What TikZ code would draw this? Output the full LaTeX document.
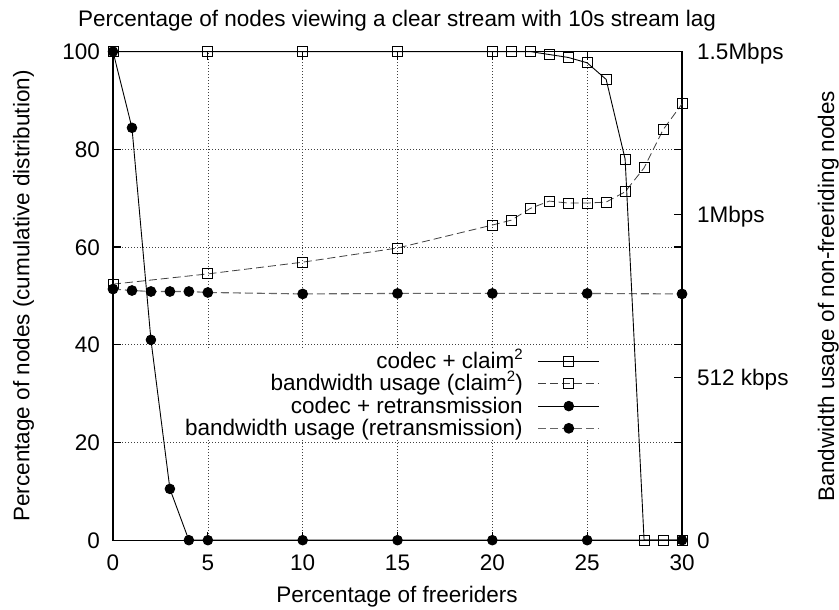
\documentclass[tikz,border=0pt]{standalone}
\usepackage{fontspec}
\setmainfont{Liberation Sans}
\usetikzlibrary{plotmarks}
\newcommand\mysqr{\raisebox{9bp}{\fontsize{15bp}{15bp}\selectfont 2}}
\begin{document}
\begin{tikzpicture}[x=1bp,y=1bp,
  font=\fontsize{22.5bp}{26bp}\selectfont,
  frame/.style={line width=1.2bp, black},
  gridl/.style={line width=0.6bp, black!75, dash pattern=on 0.8bp off 2.2bp},
  solidl/.style={line width=0.9bp, black},
  dashl/.style={line width=0.8bp, black!75, dash pattern=on 8bp off 4bp},
  dashg/.style={line width=1.1bp, black!60, dash pattern=on 8bp off 4bp},
  sqm/.style={mark=square, mark size=5bp, mark options={solid, black, line width=0.9bp}},
  dotm/.style={mark=*, mark size=4.8bp, mark options={solid, black}},
  lab/.style={inner sep=0pt}]
\useasboundingbox (0,0) rectangle (839,610);
\fill[white] (0,0) rectangle (839,610);
\begin{scope}[shift={(113,69.8)}, x=18.967bp, y=4.886bp]
  % grid
  \foreach \gx in {5,10,15,20,25} \draw[gridl] (\gx,0) -- (\gx,100);
  \foreach \gy in {20,40,60,80} \draw[gridl] (0,\gy) -- (30,\gy);
  % key area blanks the grid
  \fill[white] (2.48,20.5) rectangle (25.95,39.1);
  % ticks
  \foreach \t in {0,5,...,30} {
    \draw[frame] (\t,0) -- ++(0,8bp);
    \draw[frame] (\t,100) -- ++(0,-8bp);
    \node[lab, anchor=base] (xl\t) at ([yshift=-30.8bp]\t,0) {\t};
  }
  \foreach \v in {0,20,...,100} {
    \draw[frame] (0,\v) -- ++(8bp,0);
    \draw[frame] (30,\v) -- ++(-8bp,0);
    \node[lab, anchor=base east] (yl\v) at ([xshift=-13bp,yshift=-8bp]0,\v) {\v};
  }
  \foreach \v in {33.333,66.667} \draw[frame] (30,\v) -- ++(-8bp,0);
  \node[lab, anchor=base west] (r0) at ([xshift=15bp,yshift=-8bp]30,0) {0};
  \node[lab, anchor=base west] (r1) at ([xshift=15bp,yshift=-8bp]30,33.333) {512 kbps};
  \node[lab, anchor=base west] (r2) at ([xshift=15bp,yshift=-8bp]30,66.667) {1Mbps};
  \node[lab, anchor=base west] (r3) at ([xshift=15bp,yshift=-8bp]30,100) {1.5Mbps};
  % frame
  \draw[frame] (0,0) rectangle (30,100);
  % data: bandwidth usage (claim^2)
  \draw[dashl, sqm] plot coordinates {(0,52.4) (5,54.5) (10,56.9) (15,59.8) (20,64.5) (21,65.5) (22,67.9) (23,69.4) (24,69.0) (25,69.0) (26,69.2) (27,71.3) (28,76.2) (29,84.0) (30,89.3)};
  % data: bandwidth usage (retransmission)
  \draw[dashg, dotm] plot coordinates {(0,51.4) (1,51.1) (2,50.9) (3,50.9) (4,50.9) (5,50.7) (10,50.4) (15,50.5) (20,50.5) (25,50.5) (30,50.4)};
  % data: codec + claim^2
  \draw[solidl, sqm] plot coordinates {(0,100) (5,100) (10,100) (15,100) (20,100) (21,100) (22,100) (23,99.4) (24,98.8) (25,97.7) (26,94.3) (27,78.0) (28,0) (29,0) (30,0)};
  % data: codec + retransmission
  \draw[solidl, dotm] plot coordinates {(0,100) (1,84.4) (2,41.0) (3,10.5) (4,0) (5,0) (10,0) (15,0) (20,0) (25,0) (30,0)};
\end{scope}
% legend
\node[lab, anchor=base east] (k1) at (523,241.3) {codec + claim\mysqr};
\node[lab, anchor=base east] (k2) at (523,219.1) {bandwidth usage (claim\mysqr)};
\node[lab, anchor=base east] (k3) at (523,196.9) {codec + retransmission};
\node[lab, anchor=base east] (k4) at (523,174.7) {bandwidth usage (retransmission)};
\draw[solidl] (538.3,248.3) -- (599.3,248.3);
\draw[solidl, sqm] plot coordinates {(568.8,248.3)};
\draw[dashl] (538.3,226.1) -- (599.3,226.1);
\draw[dashl, sqm] plot coordinates {(568.8,226.1)};
\draw[solidl] (538.3,203.9) -- (599.3,203.9);
\draw[solidl, dotm] plot coordinates {(568.8,203.9)};
\draw[dashg] (538.3,181.7) -- (599.3,181.7);
\draw[dashg, dotm] plot coordinates {(568.8,181.7)};
% titles
\node[lab, anchor=base] (title) at (397,583) {Percentage of nodes viewing a clear stream with 10s stream lag};
\node[lab, anchor=base] (xlabel) at (397,7) {Percentage of freeriders};
\node[lab, anchor=base, rotate=90] (ylabel) at (29.3,314) {Percentage of nodes (cumulative distribution)};
\node[lab, anchor=base, rotate=90] (y2label) at (834,314) {Bandwidth usage of non-freeriding nodes};
\end{tikzpicture}
\end{document}
